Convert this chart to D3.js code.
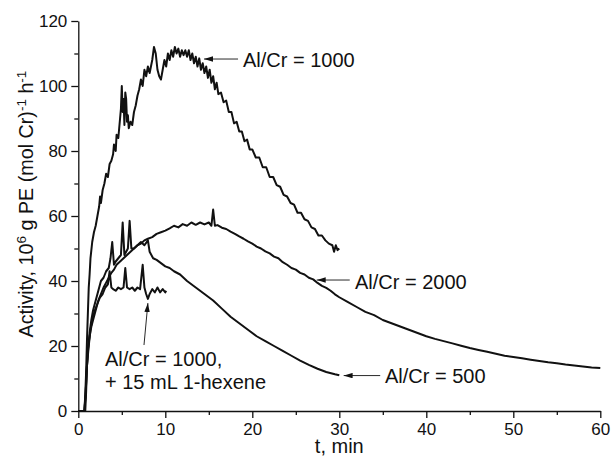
<!DOCTYPE html>
<html>
<head>
<meta charset="utf-8">
<script src="https://cdn.jsdelivr.net/npm/d3@7"></script>
<style>
  body { margin: 0; background: #fff; }
  svg { display: block; font-family: "Liberation Sans", Arial, sans-serif; }
</style>
</head>
<body>
<svg id="chart"></svg>
<script>
// data: [t (min), activity]
const ratio1000 = [[0,0],[0.5,0],[0.7,0],[0.8,5],[0.9,12],[1.0,22],[1.1,30],[1.2,38],[1.3,42],[1.4,47],[1.6,52],[1.8,55],[2.0,57],[2.2,60],[2.4,63],[2.5,66],[2.6,64],[2.8,68],[3.0,70],[3.2,73],[3.4,72],[3.6,76],[3.8,77],[4.0,79],[4.1,82],[4.3,80],[4.4,85],[4.6,84],[4.8,90],[4.9,93],[5.0,100],[5.1,92],[5.2,96],[5.3,88],[5.4,98],[5.5,96],[5.6,89],[5.7,91],[5.8,87],[6.0,89],[6.2,88],[6.4,92],[6.6,94],[6.8,97],[7.0,99],[7.2,102],[7.4,100],[7.6,105],[7.8,103],[8.0,106],[8.2,104],[8.5,108],[8.7,112],[8.9,110],[9.1,105],[9.3,103],[9.5,102],[9.7,105],[9.9,108],[10.1,106],[10.3,110],[10.5,108],[10.7,111],[10.9,109],[11.1,112],[11.3,110],[11.5,111.5],[11.7,109],[11.9,111],[12.1,109.5],[12.3,111],[12.5,109],[12.7,111],[12.9,108],[13.1,110],[13.3,107],[13.5,109],[13.7,106],[13.9,108.5],[14.1,105],[14.3,107],[14.5,104],[14.7,106],[14.9,102.5],[15.1,105],[15.3,101],[15.5,103],[15.7,99],[15.9,101],[16.1,97.5],[16.4,98],[16.7,95],[17.0,95.5],[17.3,92],[17.6,92],[17.9,88.5],[18.2,89],[18.5,86],[18.8,86],[19.1,83],[19.4,83.5],[19.7,80.5],[20.0,80.5],[20.4,78],[20.8,78],[21.2,75],[21.6,75],[22.0,72],[22.4,72],[22.8,69.5],[23.2,69],[23.6,66.5],[24.0,66],[24.4,64],[24.8,63.5],[25.2,61],[25.6,61],[26.0,59],[26.4,58.5],[26.8,56.5],[27.2,56],[27.6,54],[28.0,54],[28.4,52.5],[28.8,51.5],[29.2,51],[29.4,49],[29.6,51],[29.8,49.5],[30.0,50]];

const ratio2000 = [[0,0],[0.6,0],[0.8,0],[0.9,6],[1.0,14],[1.1,19],[1.3,23],[1.5,26],[1.7,28],[1.9,30],[2.1,32],[2.3,34],[2.6,36],[2.9,38],[3.2,39.5],[3.5,41],[3.8,42.5],[4.1,43.5],[4.4,45],[4.8,46],[5.2,47],[5.6,48],[6.0,49],[6.4,50],[6.8,51],[7.2,51.5],[7.6,52.5],[8.0,53],[8.5,53.5],[9.0,54.5],[9.5,55],[10,55.5],[10.5,56.2],[11,57],[11.5,56.5],[12,57.5],[12.5,57],[13,58],[13.5,57.3],[14,58],[14.5,57.4],[15,58],[15.3,57],[15.5,62],[15.7,57],[16,57.2],[16.5,56.4],[17,56],[17.5,55.2],[18,54.5],[18.5,53.7],[19,53],[19.5,52.2],[20,51.5],[20.5,50.6],[21,50],[21.5,49.1],[22,48.5],[22.5,47.5],[23,47],[23.5,45.8],[24,45],[24.5,44],[25,43.5],[25.5,42.5],[26,42],[26.5,41],[27,40.5],[27.5,39.4],[28,38.5],[28.5,37.9],[29,37],[29.5,35.9],[30,35],[31,33.5],[32,32],[33,30.5],[34,29.5],[35,28],[36,27],[37,26],[38,25],[39,24],[40,23],[41,22.2],[42,21.5],[43,20.8],[44,20.1],[45,19.4],[46,18.8],[47,18.2],[48,17.6],[49,17],[50,16.6],[51,16.2],[52,15.8],[53,15.4],[54,15],[55,14.7],[56,14.3],[57,14],[58,13.7],[59,13.4],[60,13.2]];

const ratio500 = [[0,0],[0.7,0],[0.85,5],[0.95,12],[1.1,18],[1.3,24],[1.5,28],[1.7,31],[2.0,34],[2.3,37],[2.6,40],[2.9,41],[3.2,43],[3.5,44],[3.7,47],[3.9,52],[4.1,45],[4.3,46],[4.6,47],[4.9,48],[5.1,58],[5.3,48],[5.5,49],[5.7,50],[5.9,58.5],[6.1,50],[6.4,50],[6.8,51],[7.2,52],[7.6,51],[8.0,52.5],[8.2,49],[8.6,47],[9.0,46.5],[9.5,45.5],[10,44.5],[10.5,44],[11,43],[11.7,42],[12.5,40],[13.5,38],[14.5,36],[15.5,34],[16.5,31.5],[17.5,29],[18.5,27],[19.5,25],[20.5,23],[21.5,21.5],[22.5,20],[23.5,18.5],[24.5,17],[25.5,15.5],[26.5,14.2],[27.5,13],[28.5,12],[29.5,11.3],[30,11]];

const ratio1000Hexene = [[0,0],[0.7,0],[0.85,6],[1.0,14],[1.2,20],[1.4,25],[1.6,28],[1.9,31],[2.2,33],[2.5,35],[2.8,36],[3.1,38],[3.4,39],[3.6,43],[3.8,38],[4.0,37.5],[4.3,37],[4.6,38],[4.9,37.5],[5.2,38],[5.4,44],[5.6,38],[5.9,37.5],[6.2,38],[6.5,37],[6.8,38],[7.1,37.5],[7.4,45],[7.6,38],[7.8,36],[8.0,34.5],[8.2,36],[8.5,37.5],[8.8,36.5],[9.1,38],[9.4,36.5],[9.7,37.5],[10.0,36.5],[10.1,37]];

const xTicks = [0, 10, 20, 30, 40, 50, 60];
const xMinorTicks = [5, 15, 25, 35, 45, 55];
const yTicks = [0, 20, 40, 60, 80, 100, 120];
const yMinorTicks = [10, 30, 50, 70, 90, 110];

// annotations: arrow tail, arrow tip, label anchor (data space)
const notes = [
  {lines: ["Al/Cr = 1000"], tail: [18.36, 108.3], tip: [14.45, 108.3], at: [18.93, 105.8]},
  {lines: ["Al/Cr = 2000"], tail: [31.2, 40.3], tip: [27.4, 40.3], at: [31.8, 37.4]},
  {lines: ["Al/Cr = 500"], tail: [34.7, 10.9], tip: [30.5, 10.9], at: [35.25, 8.5]},
  {lines: ["Al/Cr = 1000,", "+ 15 mL 1-hexene"], tail: [7.55, 20.3], tip: [8.0, 33.2], at: [3.07, 13.8]}
];

const width = 611;
const height = 456;
const margin = {left: 78.3, right: 10.7, top: 21, bottom: 45};
const ink = "#111";

const svg = d3.select("#chart").attr("width", width).attr("height", height);

const x = d3.scaleLinear().domain([0, 60]).range([margin.left, width - margin.right]);
const y = d3.scaleLinear().domain([0, 120]).range([height - margin.bottom, margin.top]);

// curves
const line = d3.line().x(d => x(d[0])).y(d => y(d[1]));
[ratio1000, ratio2000, ratio500, ratio1000Hexene].forEach(s => {
  svg.append("path").datum(s)
    .attr("d", line)
    .attr("fill", "none")
    .attr("stroke", ink)
    .attr("stroke-width", 2)
    .attr("stroke-linejoin", "round");
});

// axes
const styleAxis = g => {
  g.selectAll("path.domain").attr("stroke", ink).attr("stroke-width", 1.3);
  g.selectAll(".tick line").attr("stroke", ink).attr("stroke-width", 1.3);
  g.selectAll("text").attr("fill", ink).style("font-size", "17px")
    .style("font-family", "'Liberation Sans', Arial, sans-serif");
};

svg.append("g")
  .attr("transform", "translate(0," + y(0) + ")")
  .call(d3.axisBottom(x).tickValues(xMinorTicks).tickSize(4).tickFormat(""))
  .call(g => g.select(".domain").remove())
  .call(styleAxis);
svg.append("g")
  .attr("transform", "translate(0," + y(0) + ")")
  .call(d3.axisBottom(x).tickValues(xTicks).tickSize(7).tickSizeOuter(0).tickPadding(5))
  .call(styleAxis);

svg.append("g")
  .attr("transform", "translate(" + x(0) + ",0)")
  .call(d3.axisLeft(y).tickValues(yMinorTicks).tickSize(4).tickFormat(""))
  .call(g => g.select(".domain").remove())
  .call(styleAxis);
svg.append("g")
  .attr("transform", "translate(" + x(0) + ",0)")
  .call(d3.axisLeft(y).tickValues(yTicks).tickSize(7).tickSizeOuter(0).tickPadding(4))
  .call(styleAxis);

// axis titles
svg.append("text")
  .attr("x", x(30)).attr("y", 453)
  .attr("text-anchor", "middle")
  .attr("fill", ink)
  .style("font-size", "20px")
  .text("t, min");

// y title: fit it to the span it takes in the reference (about 267px)
const yTitleG = svg.append("g");
const yTitle = yTitleG.append("text")
  .attr("text-anchor", "middle")
  .attr("fill", ink)
  .style("font-size", "19px");
yTitle.append("tspan").text("Activity, 10");
yTitle.append("tspan").attr("dy", -7).style("font-size", "13px").text("6");
yTitle.append("tspan").attr("dy", 7).text(" g PE (mol Cr)");
yTitle.append("tspan").attr("dy", -7).style("font-size", "13px").text("-1");
yTitle.append("tspan").attr("dy", 7).text(" h");
yTitle.append("tspan").attr("dy", -7).style("font-size", "13px").text("-1");
const titleLen = yTitle.node().getBBox().width || 267;
const k = Math.min(1.2, Math.max(0.7, 267 / titleLen));
yTitleG.attr("transform", "translate(33,204) rotate(-90) scale(" + k + ")");

// annotations
svg.append("defs").append("marker")
  .attr("id", "head")
  .attr("viewBox", "0 0 10 6")
  .attr("refX", 10).attr("refY", 3)
  .attr("markerWidth", 9).attr("markerHeight", 5.4)
  .attr("markerUnits", "userSpaceOnUse")
  .attr("orient", "auto")
  .append("path").attr("d", "M0,0L10,3L0,6Z").attr("fill", ink);

notes.forEach(n => {
  svg.append("line")
    .attr("x1", x(n.tail[0])).attr("y1", y(n.tail[1]))
    .attr("x2", x(n.tip[0])).attr("y2", y(n.tip[1]))
    .attr("stroke", ink).attr("stroke-width", 0.9)
    .attr("marker-end", "url(#head)");
  const t = svg.append("text")
    .attr("x", x(n.at[0])).attr("y", y(n.at[1]))
    .attr("fill", ink)
    .style("font-size", "20px");
  n.lines.forEach((s, i) => {
    t.append("tspan").attr("x", x(n.at[0])).attr("dy", i ? 23 : 0).text(s);
  });
});
</script>
</body>
</html>
